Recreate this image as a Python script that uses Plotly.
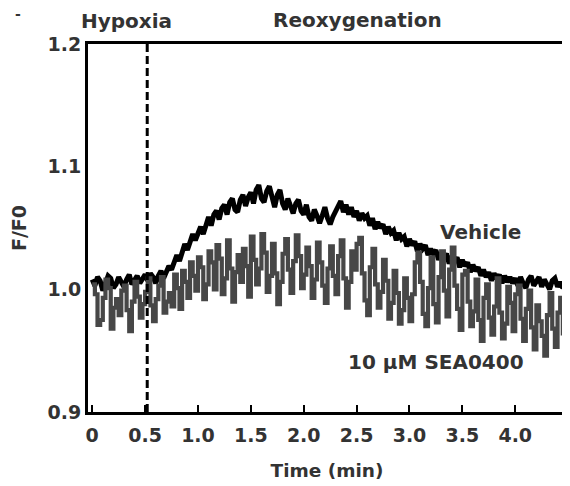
import plotly.graph_objects as go

# sampling grid (min)
time_min = [round(i * 0.025, 3) for i in range(180)]

vehicle = [
    1.008, 1.003, 1.010, 1.007, 0.999, 1.005, 1.011, 1.009, 1.001, 1.004,
    1.010, 1.006, 1.002, 1.008, 1.012, 1.004, 1.007, 1.011, 1.005, 1.009,
    1.012, 1.007, 1.013, 1.010, 1.005, 1.011, 1.015, 1.009, 1.013, 1.019,
    1.016, 1.021, 1.028, 1.023, 1.031, 1.037, 1.032, 1.039, 1.045, 1.040,
    1.047, 1.051, 1.045, 1.054, 1.059, 1.052, 1.061, 1.064, 1.057, 1.066,
    1.069, 1.061, 1.071, 1.074, 1.065, 1.063, 1.073, 1.077, 1.068, 1.075,
    1.079, 1.070, 1.081, 1.085, 1.074, 1.071, 1.080, 1.084, 1.073, 1.067,
    1.077, 1.081, 1.070, 1.065, 1.074, 1.069, 1.062, 1.070, 1.073, 1.064,
    1.061, 1.069, 1.059, 1.056, 1.065, 1.060, 1.054, 1.060, 1.067, 1.058,
    1.053, 1.059, 1.064, 1.068, 1.072, 1.063, 1.069, 1.061, 1.067, 1.059,
    1.064, 1.056, 1.062, 1.058, 1.060, 1.052, 1.058, 1.049, 1.055, 1.050,
    1.053, 1.045, 1.051, 1.046, 1.048, 1.040, 1.046, 1.041, 1.043, 1.035,
    1.041, 1.036, 1.039, 1.031, 1.037, 1.033, 1.036, 1.028, 1.033, 1.029,
    1.032, 1.024, 1.030, 1.026, 1.029, 1.021, 1.027, 1.023, 1.026, 1.018,
    1.024, 1.019, 1.022, 1.014, 1.020, 1.015, 1.018, 1.011, 1.016, 1.010,
    1.014, 1.007, 1.013, 1.009, 1.012, 1.005, 1.011, 1.006, 1.010, 1.005,
    1.009, 1.003, 1.010, 1.005, 1.001, 1.008, 1.011, 1.003, 1.006, 1.010,
    1.002, 1.008, 1.004, 1.000, 1.007, 1.009, 1.002, 1.006, 1.001, 1.005,
]

sea0400 = [
    1.004, 0.996, 0.971, 0.975, 0.993, 1.008, 1.001, 0.968, 0.985, 0.992,
    0.979, 0.999, 1.003, 0.983, 0.966, 0.990, 1.006, 0.994, 0.977, 0.988,
    0.998, 1.009, 0.987, 0.974, 0.992, 1.003, 1.010, 0.981, 0.990, 0.997,
    0.986, 1.012, 1.001, 0.984, 1.015, 1.006, 0.993, 1.022, 1.011, 0.999,
    1.026, 1.018, 0.992, 1.004, 1.031, 1.022, 1.000, 1.036, 1.025, 0.996,
    1.009, 1.040, 1.017, 0.990, 1.014, 1.028, 1.006, 1.033, 1.019, 0.994,
    1.043, 1.024, 1.004, 1.017, 1.045, 1.030, 0.998, 1.011, 1.037, 1.013,
    0.988, 1.006, 1.029, 1.041, 1.016, 0.997, 1.023, 1.044, 1.027, 1.001,
    1.012, 1.034, 1.019, 0.993, 1.008, 1.038, 1.022, 1.003, 0.989, 1.017,
    1.035, 1.011, 0.996, 1.027, 1.040, 1.009, 0.985, 1.006, 1.031, 1.016,
    1.037, 1.042, 1.013, 0.991, 0.979, 1.018, 1.033, 1.004, 0.985, 0.998,
    1.024, 1.007, 0.976, 0.989, 1.015, 0.997, 0.972, 0.983, 1.009, 0.993,
    0.974, 0.996, 1.022, 1.030, 1.006, 0.980, 0.970, 1.001, 1.026, 0.988,
    0.973, 1.010, 1.031, 0.999, 0.978, 1.016, 1.034, 1.003, 0.984, 0.967,
    1.012, 1.015, 0.990, 0.970, 0.982, 1.008, 0.975, 0.958, 0.993, 1.004,
    0.977, 0.963, 0.986, 1.009, 0.981, 0.960, 0.972, 1.002, 0.989, 0.966,
    0.996, 1.003, 0.976, 0.958, 0.984, 0.999, 0.969, 0.951, 0.987, 0.974,
    0.962, 0.946, 0.979, 0.997, 0.968, 0.953, 0.981, 0.993, 0.964, 0.957,
]

x_ticks = [0, 0.5, 1.0, 1.5, 2.0, 2.5, 3.0, 3.5, 4.0]
x_tick_labels = ["0", "0.5", "1.0", "1.5", "2.0", "2.5", "3.0", "3.5", "4.0"]
y_ticks = [0.9, 1.0, 1.1, 1.2]
y_tick_labels = ["0.9", "1.0", "1.1", "1.2"]
reox_start = 0.52

FONT = "DejaVu Sans, Liberation Sans, sans-serif"
TXT = "#333333"

# page body adds an 8px offset; figure is sized so the drawing lands where the reference has it
OFF = 8
W, H = 570 - OFF, 486 - OFF
ML, MR, MT, MB = 88 - OFF, 4, 44 - OFF, 74

fig = go.Figure()
fig.add_trace(go.Scatter(x=time_min, y=vehicle, mode="lines",
                         line=dict(color="#000000", width=5),
                         showlegend=False))
fig.add_trace(go.Scatter(x=time_min, y=sea0400, mode="lines",
                         line=dict(color="#474747", width=4.2, shape="hv"),
                         showlegend=False))

fig.add_shape(type="line", xref="x", yref="paper", x0=reox_start, x1=reox_start,
              y0=0, y1=1, line=dict(color="black", width=3, dash="8px,4px"))

fig.update_layout(
    width=W, height=H,
    margin=dict(l=ML, r=MR, t=MT, b=MB),
    paper_bgcolor="white", plot_bgcolor="white",
    font=dict(family=FONT, color=TXT),
    xaxis=dict(range=[-0.04, 4.48], tickvals=x_ticks, ticktext=x_tick_labels,
               ticks="inside", ticklen=7, tickwidth=2, tickcolor="black",
               showline=True, linecolor="black", linewidth=3, mirror=True,
               showgrid=False, zeroline=False, automargin=False,
               ticklabelstandoff=4,
               tickfont=dict(size=19, family=FONT, color=TXT, weight="bold"),
               title=dict(text="Time (min)", standoff=20,
                          font=dict(size=18.5, family=FONT, color=TXT, weight="bold"))),
    yaxis=dict(range=[0.9, 1.2], tickvals=y_ticks, ticktext=y_tick_labels,
               ticks="", showline=True, linecolor="black", linewidth=3, mirror=True,
               showgrid=False, zeroline=False, automargin=False,
               tickfont=dict(size=19, family=FONT, color=TXT, weight="bold"),
               title=dict(text="F/F0", standoff=18,
                          font=dict(size=19, family=FONT, color=TXT, weight="bold"))),
)

annots = [
    dict(text="Hypoxia", x=126, y=21, size=20),
    dict(text="Reoxygenation", x=357, y=20, size=20),
    dict(text="Vehicle", x=480, y=232, size=20),
    dict(text="10 \u03bcM SEA0400", x=436, y=362, size=20),
    dict(text="-", x=18, y=14, size=14),
]
for a in annots:
    fig.add_annotation(text=a["text"], xref="paper", yref="paper",
                       x=(a["x"] - OFF - ML) / (W - ML - MR),
                       y=1 - (a["y"] - OFF - MT) / (H - MT - MB),
                       showarrow=False, xanchor="center", yanchor="middle",
                       font=dict(size=a["size"], family=FONT, color=TXT, weight="bold"))

fig.write_html("out.html")
